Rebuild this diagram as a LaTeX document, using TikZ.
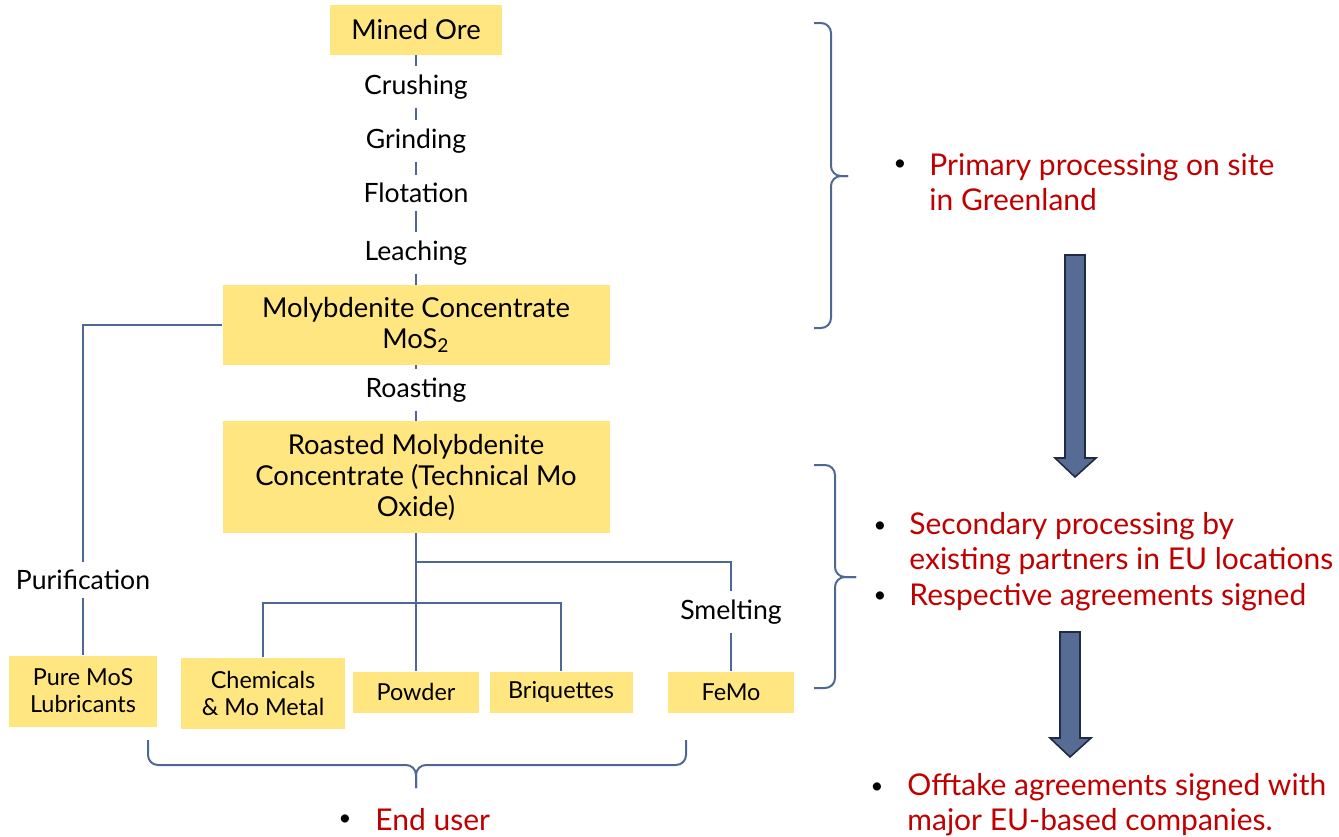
\documentclass[tikz,border=0pt]{standalone}
\usepackage{fontspec}
\setmainfont{Lato}
\usetikzlibrary{positioning}
\definecolor{oreyellow}{HTML}{FFE680}
\definecolor{linkblue}{HTML}{4D6894}
\definecolor{notered}{HTML}{C00000}
\definecolor{arrowfill}{HTML}{566C95}
\definecolor{arrowedge}{HTML}{1F2A44}

\begin{document}
\begin{tikzpicture}[
  x=0.5pt, y=-0.5pt,
  font=\fontsize{13.7}{15.5}\selectfont,
  box/.style={rectangle, fill=oreyellow, align=center, inner sep=1pt},
  smallbox/.style={box, font=\fontsize{11.7}{13.5}\selectfont},
  stage/.style={inner sep=4pt, align=center, font=\fontsize{13.3}{15}\selectfont},
  link/.style={draw=linkblue, line width=1pt},
  brace/.style={draw=linkblue, line width=1pt, rounded corners=5pt},
  note/.style={text=notered, align=left, anchor=west, inner sep=0pt,
               font=\fontsize{15}{17.5}\selectfont},
  dot/.style={inner sep=0pt, font=\fontsize{11}{13}\selectfont},
  flow/.style={fill=arrowfill, draw=arrowedge, line width=0.8pt},
]
  \useasboundingbox (0,0) rectangle (1339,836);

  % main column
  \node[box, minimum width=86pt, minimum height=25pt] (ore) at (416,30) {Mined Ore};
  \node[stage] (crush) at (416,87) {Crushing};
  \node[stage] (grind) at (416,141) {Grinding};
  \node[stage] (flot) at (416,193) {Flotation};
  \node[stage] (leach) at (416,253) {Leaching};
  \node[box, minimum width=193.5pt, minimum height=40pt] (conc) at (416,325)
    {Molybdenite Concentrate\\MoS\textsubscript{2}};
  \node[stage] (roastlbl) at (416,390) {Roasting};
  \node[box, minimum width=193.5pt, minimum height=56pt] (roast) at (416,477)
    {Roasted Molybdenite\\Concentrate (Technical Mo\\Oxide)};

  % products
  \node[smallbox, minimum width=74pt, minimum height=35.5pt] (pure) at (83,691)
    {Pure MoS\\Lubricants};
  \node[smallbox, minimum width=82pt, minimum height=35.5pt] (chem) at (263,693)
    {Chemicals\\\& Mo Metal};
  \node[smallbox, minimum width=63pt, minimum height=20.5pt] (powder) at (416,692) {Powder};
  \node[smallbox, minimum width=71.5pt, minimum height=20.5pt] (brq) at (561,692) {Briquettes};
  \node[smallbox, minimum width=63pt, minimum height=20.5pt] (femo) at (731,692) {FeMo};
  \node[stage] (purif) at (83,580) {Purification};
  \node[stage] (smelt) at (731,612) {Smelting};

  \foreach \a/\b in {ore/crush, crush/grind, grind/flot, flot/leach,
                     leach/conc, conc/roastlbl, roastlbl/roast, roast/powder}
    \draw[link] (\a) -- (\b);

  \coordinate (j1) at (416,562);
  \coordinate (j2) at (416,603);
  \draw[link] (j1) -| (smelt);
  \draw[link] (smelt) -- (femo);
  \draw[link] (chem.north) |- (j2) -| (brq.north);
  \draw[link] (conc.west) -| (purif);
  \draw[link] (purif) -- (pure);

  % braces
  \draw[brace] (814,23) -- (831,23) -- (831,176) -- (848,176);
  \draw[brace] (848,176) -- (831,176) -- (831,328) -- (814,328);
  \draw[brace] (814,465) -- (835,465) -- (835,577) -- (856,577);
  \draw[brace] (856,577) -- (835,577) -- (835,688) -- (814,688);
  \draw[brace] (148,740) -- (148,765) -- (416,765) -- (416,788);
  \draw[brace] (416,788) -- (416,765) -- (686,765) -- (686,740);

  % block arrows
  \draw[flow] (1065,255) -- (1085,255) -- (1085,458) -- (1096,458)
    -- (1075,477) -- (1055,458) -- (1065,458) -- cycle;
  \draw[flow] (1060,632) -- (1080,632) -- (1080,738) -- (1091,738)
    -- (1070,757) -- (1050,738) -- (1060,738) -- cycle;

  % notes
  \node[dot] (d1) at (900,165) {\textbullet};
  \node[note] (n1) at (929,182) {Primary processing on site\\in Greenland};
  \node[dot] (d2) at (880,527) {\textbullet};
  \node[note] (n2) at (909,544) {Secondary processing by\\existing partners in EU locations};
  \node[dot] (d3) at (880,597) {\textbullet};
  \node[note] (n3) at (909,597) {Respective agreements signed};
  \node[dot] (d4) at (877,788) {\textbullet};
  \node[note] (n4) at (907,805) {Offtake agreements signed with\\major EU-based companies.};
  \node[dot] (d5) at (345,820) {\textbullet};
  \node[note] (n5) at (375,820) {End user};
\end{tikzpicture}
\end{document}
